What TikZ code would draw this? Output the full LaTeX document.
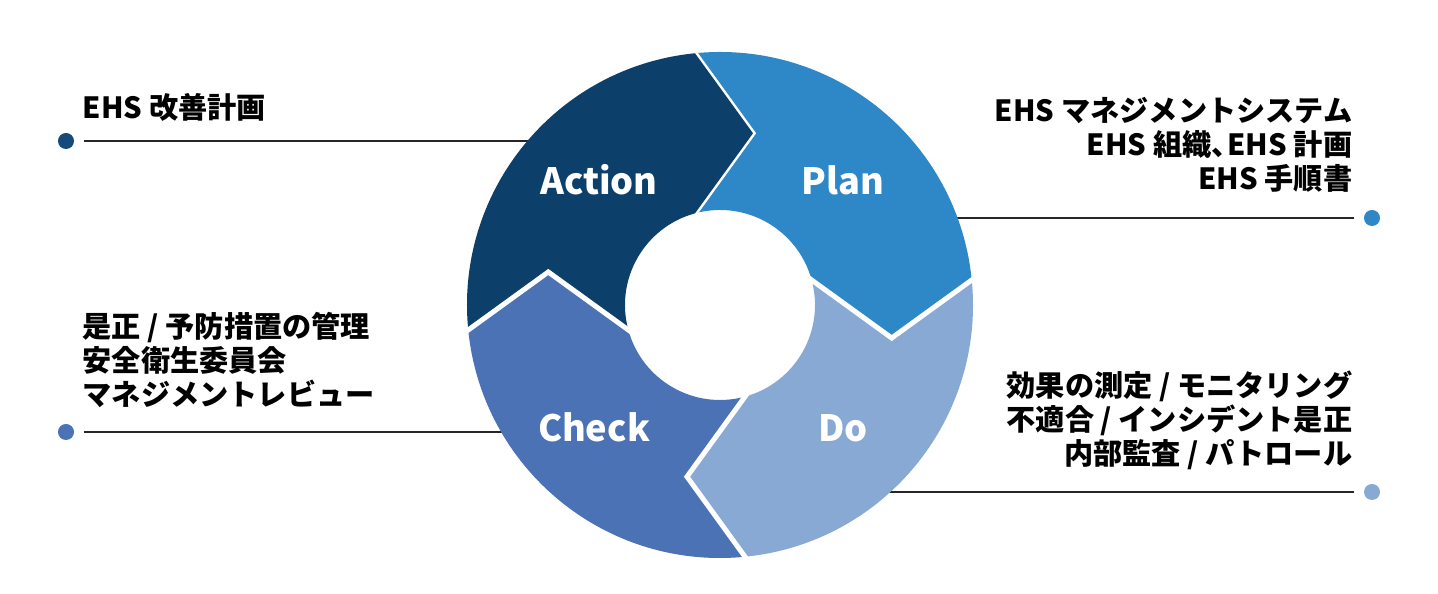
\documentclass[tikz,border=0pt]{standalone}
\usepackage{fontspec}
\setmainfont{Noto Sans CJK JP}
\definecolor{actionc}{HTML}{0D3F6B}
\definecolor{planc}{HTML}{2E88C8}
\definecolor{doc}{HTML}{87A9D4}
\definecolor{checkc}{HTML}{4A72B5}
\definecolor{actiondot}{HTML}{134B7B}
\begin{document}
\begin{tikzpicture}[x=0.01cm,y=0.01cm,
  gap/.style={white,line width=0.05cm},
  dot/.style={circle,inner sep=0pt,minimum size=0.16cm},
  lead/.style={black!85,line width=0.4pt,shorten <=0.09cm},
  stage/.style={white,inner sep=0pt,font=\bfseries\fontsize{10.3pt}{12pt}\selectfont},
  note/.style={black,inner sep=0pt,font=\bfseries\fontsize{8.3pt}{9.8pt}\selectfont}]
\useasboundingbox (0,0) rectangle (1438,594);
\coordinate (C) at (720,289);
\node[dot,fill=actiondot] (ad) at (66,453) {};
\node[dot,fill=planc] (pd) at (1372,376) {};
\node[dot,fill=checkc] (cd) at (66,162) {};
\node[dot,fill=doc] (dd) at (1372,102) {};
\coordinate (ae) at (600,453);
\coordinate (pe) at (900,376);
\coordinate (ce) at (560,162);
\coordinate (de) at (880,102);
\draw [lead] (ad) -- (ae);
\draw [lead] (pd) -- (pe);
\draw [lead] (cd) -- (ce);
\draw [lead] (dd) -- (de);
\foreach \ang/\col in {0/planc,-90/doc,-180/checkc,-270/actionc}
{
\begin{scope}[shift={(C)},rotate=\ang]
\fill [\col] (95.67:253) arc[start angle=95.67,end angle=5.67,radius=253]
  -- (171.7,-33) -- (15.26:95) arc[start angle=15.26,end angle=105.26,radius=95]
  -- (33,171.7) -- cycle;
\draw [gap] (-33.7,263.8) -- (33,171.7) -- (-33.7,79.6);
\end{scope}
}
\node[stage,anchor=base] (act) at (599,399) {Action};
\node[stage,anchor=base] (pl) at (843,399) {Plan};
\node[stage,anchor=base] (ch) at (594,152) {Check};
\node[stage,anchor=base] (do) at (843,152) {Do};
\node[note,anchor=base west] (at) at (82,475) {EHS 改善計画};
\node[note,anchor=base east,align=right] (pt) at (1353,404) {EHS マネジメントシステム\\EHS 組織、\hspace{-0.45em}EHS 計画\\EHS 手順書};
\node[note,anchor=base west,align=left] (ct) at (82,188) {是正 / 予防措置の管理\\安全衛生委員会\\マネジメントレビュー};
\node[note,anchor=base east,align=right] (dt) at (1353,129) {効果の測定 / モニタリング\\不適合 / インシデント是正\\内部監査 / パトロール};
\end{tikzpicture}
\end{document}
